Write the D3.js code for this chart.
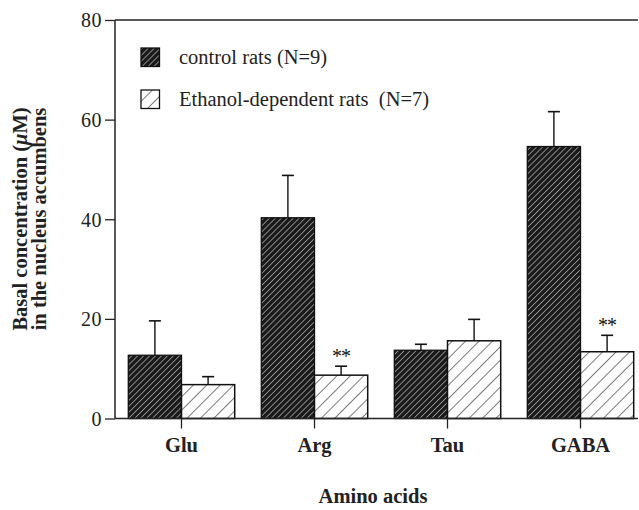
<!DOCTYPE html>
<html><head><meta charset="utf-8">
<script src="https://cdn.jsdelivr.net/npm/d3@7"></script>
<style>body{margin:0;background:#fff;} text{font-family:"Liberation Serif","Times New Roman",serif;}</style>
</head><body>
<svg id="c" width="639" height="510"></svg>
<script>
const categories = ["Glu", "Arg", "Tau", "GABA"];
const seriesNames = ["control rats (N=9)", "Ethanol-dependent rats\u00a0 (N=7)"];
const controlMean = [12.7, 40.3, 13.7, 54.6];
const controlErr  = [6.9, 8.5, 1.2, 7.0];
const ethanolMean = [6.8, 8.7, 15.6, 13.4];
const ethanolErr  = [1.6, 1.8, 4.3, 3.3];
const significant = [false, true, false, true];
const yTicks = [0, 20, 40, 60, 80];

const svg = d3.select("#c");
const defs = svg.append("defs");
const p1 = defs.append("pattern").attr("id","dark").attr("patternUnits","userSpaceOnUse")
  .attr("width",4.2).attr("height",4.2).attr("patternTransform","rotate(45)");
p1.append("rect").attr("width",4.2).attr("height",4.2).attr("fill","#1a1a1a");
p1.append("line").attr("x1",0).attr("y1",0).attr("x2",0).attr("y2",4.2).attr("stroke","#f0f0f0").attr("stroke-width",1);
const p2 = defs.append("pattern").attr("id","light").attr("patternUnits","userSpaceOnUse")
  .attr("width",9.5).attr("height",9.5).attr("patternTransform","rotate(45)");
p2.append("rect").attr("width",9.5).attr("height",9.5).attr("fill","#fff");
p2.append("line").attr("x1",0).attr("y1",0).attr("x2",0).attr("y2",9.5).attr("stroke","#111").attr("stroke-width",1.1);

const x0 = 115, x1 = 638, yTop = 20, yBot = 418.5;
const y = d3.scaleLinear().domain([0,80]).range([yBot, yTop]);
const x = d3.scaleBand().domain(categories).range([115, 647]).paddingInner(0).paddingOuter(0);
const bw = 53.2;
const FS = 20;

const yAxis = svg.append("g").attr("transform",`translate(${x0},0)`)
  .call(d3.axisLeft(y).tickValues(yTicks).tickSize(10).tickPadding(3));
yAxis.select(".domain").remove();
yAxis.selectAll(".tick line").attr("stroke","#222").attr("stroke-width",1.3);
yAxis.selectAll(".tick text").attr("font-size",FS).attr("fill","#222").attr("letter-spacing","0.5")
  .attr("font-family","Liberation Serif").attr("dy","0.34em");
svg.append("line").attr("x1",x0).attr("x2",x0).attr("y1",yTop).attr("y2",yBot).attr("stroke","#222").attr("stroke-width",1.5);
svg.append("line").attr("x1",x0).attr("x2",x1).attr("y1",yTop).attr("y2",yTop).attr("stroke","#222").attr("stroke-width",1.5);

const cx = c => x(c) + x.bandwidth()/2;

const g = svg.append("g");
categories.forEach((c,i) => {
  const m = cx(c);
  g.append("rect").attr("x", m-bw).attr("y", y(controlMean[i])).attr("width", bw).attr("height", yBot - y(controlMean[i]))
    .attr("fill","url(#dark)").attr("stroke","#111").attr("stroke-width",1.3);
  g.append("rect").attr("x", m).attr("y", y(ethanolMean[i])).attr("width", bw).attr("height", yBot - y(ethanolMean[i]))
    .attr("fill","url(#light)").attr("stroke","#111").attr("stroke-width",1.5);
  [[m-bw/2, controlMean[i], controlErr[i]], [m+bw/2, ethanolMean[i], ethanolErr[i]]].forEach(([ex, mv, ev]) => {
    g.append("line").attr("x1",ex).attr("x2",ex).attr("y1",y(mv)).attr("y2",y(mv+ev)).attr("stroke","#111").attr("stroke-width",1.4);
    g.append("line").attr("x1",ex-6).attr("x2",ex+6).attr("y1",y(mv+ev)).attr("y2",y(mv+ev)).attr("stroke","#111").attr("stroke-width",1.6);
  });
  if (significant[i]) {
    g.append("text").attr("x", m+bw/2).attr("y", y(ethanolMean[i]+ethanolErr[i]) - 3).attr("text-anchor","middle")
      .attr("font-size",20).attr("fill","#111").attr("font-family","DejaVu Sans").attr("letter-spacing","-1").text("**");
  }
});

svg.append("line").attr("x1",x0).attr("x2",x1).attr("y1",yBot).attr("y2",yBot).attr("stroke","#222").attr("stroke-width",1.5);
categories.forEach(c => {
  svg.append("line").attr("x1",cx(c)).attr("x2",cx(c)).attr("y1",yBot).attr("y2",yBot+10).attr("stroke","#222").attr("stroke-width",1.3);
  svg.append("text").attr("x",cx(c)).attr("y",452).attr("text-anchor","middle").attr("font-size",20.5).attr("font-weight","bold").attr("fill","#222").text(c);
});
svg.append("text").attr("x",373).attr("y",503).attr("text-anchor","middle").attr("font-size",20.5).attr("font-weight","bold").attr("fill","#222").text("Amino acids");

const yl = svg.append("text").attr("transform","translate(27,219) rotate(-90)").attr("text-anchor","middle")
  .attr("font-size",20.5).attr("font-weight","bold").attr("fill","#222");
yl.append("tspan").text("Basal concentration (");
yl.append("tspan").attr("font-style","italic").text("μ");
yl.append("tspan").text("M)");
svg.append("text").attr("transform","translate(46,219) rotate(-90)").attr("text-anchor","middle")
  .attr("font-size",20.5).attr("font-weight","bold").attr("fill","#222").text("in the nucleus accumbens");

const leg = [{y:48, fill:"url(#dark)"},{y:90, fill:"url(#light)"}];
leg.forEach((l,i) => {
  svg.append("rect").attr("x",141).attr("y",l.y).attr("width",18.5).attr("height",18.5).attr("fill",l.fill).attr("stroke","#111").attr("stroke-width",1.3);
  svg.append("text").attr("x",179).attr("y",l.y+16).attr("font-size",20.5).attr("fill","#222").text(seriesNames[i]);
});
</script>
</body></html>
